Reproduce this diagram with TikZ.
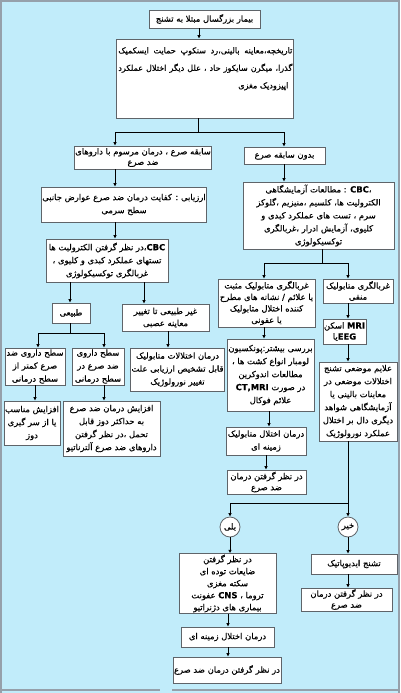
\documentclass[tikz,border=0pt]{standalone}
\usepackage{fontspec}
\usetikzlibrary{arrows.meta}
\newfontfamily\arabicfont[Script=Arabic,FakeBold=0.4]{DejaVu Sans}
\TeXXeTstate=1
\newcommand{\fa}[1]{\beginR #1\endR}
\newcommand{\lat}[1]{\textbf{#1}}
\newcommand{\jline}[1]{\hbox to 174pt{\beginR #1\endR}}
\definecolor{bgblue}{RGB}{193,236,250}
\definecolor{framegray}{RGB}{150,160,170}
\definecolor{boxgray}{RGB}{95,100,105}
\begin{document}
\begin{tikzpicture}[x=1pt,y=-1pt,
  box/.style={draw=boxgray, line width=0.8pt, fill=white, inner sep=1pt, align=center,
    font=\arabicfont\fontsize{8.4}{13}\selectfont},
  circ/.style={draw=boxgray, line width=0.8pt, fill=white, circle, minimum size=20pt, inner sep=0pt,
    font=\arabicfont\fontsize{8.4}{13}\selectfont},
  arr/.style={-{Latex[length=3.5pt,width=3.5pt]}, line width=0.7pt},
  ln/.style={line width=0.7pt}]
\fill[bgblue] (0,0) rectangle (400,693);
\useasboundingbox (0,0) rectangle (400,693);
\draw[framegray, line width=2pt] (1,693) -- (1,1) -- (399,1) -- (399,693);
\draw[framegray, line width=1.5pt] (0,690) -- (160,690) (172,690) -- (400,690);

% top
\node[box, minimum width=111pt, minimum height=18pt] (b1) at (204.5,19) {\fa{بیمار بزرگسال مبتلا به تشنج}};
\node[box, minimum width=177pt, minimum height=79pt] (b2) at (204.5,78.5) {};
\node[inner sep=0pt, anchor=north east, align=right,
  font=\arabicfont\fontsize{8.1}{17.5}\selectfont] (b2t) at (292.5,47)
  {\jline{تاریخچه،معاینه بالینی،رد سنکوپ حمایت ایسکمیک}\\
   \jline{گذرا، میگرن سایکوز حاد ، علل دیگر اختلال عملکرد}\\
   \fa{اپیزودیک مغزی}\hspace*{4pt}};

% left branch
\node[box, minimum width=128pt, minimum height=23pt] (b3) at (143,157.5)
  {\fa{سابقه صرع ، درمان مرسوم با داروهای}\\[-2.5pt]\fa{ضد صرع}};
\node[box, minimum width=81pt, minimum height=17pt] (b4) at (284.5,155.5) {\fa{بدون سابقه صرع}};
\node[box, minimum width=154pt, minimum height=35pt] (b5) at (124,204.5)
  {\fa{ارزیابی : کفایت درمان ضد صرع عوارض جانبی}\\\fa{سطح سرمی}};
\node[box, minimum width=122pt, minimum height=43pt] (b6) at (107,260.5)
  {\fa{در نظر گرفتن الکترولیت ها}،\lat{CBC}\\\fa{تستهای عملکرد کبدی و کلیوی ،}\\\fa{غربالگری توکسیکولوژی}};
\node[box, minimum width=38pt, minimum height=20pt] (b20) at (71,313) {\fa{طبیعی}};
\node[box, minimum width=87pt, minimum height=27pt] (b21) at (165.5,317.5)
  {\fa{غیر طبیعی تا تغییر}\\[-1pt]\fa{معاینه عصبی}};
\node[box, minimum width=60pt, minimum height=37pt] (b23) at (35,366.5)
  {\fa{سطح داروی ضد}\\\fa{صرع کمتر از}\\\fa{سطح درمانی}};
\node[box, minimum width=52pt, minimum height=37pt] (b24) at (98,366.5)
  {\fa{سطح داروی}\\\fa{ضد صرع در}\\\fa{سطح درمانی}};
\node[box, minimum width=91pt, minimum height=43pt] (b27) at (177.5,369.5)
  {\fa{درمان اختلالات متابولیک}\\\fa{قابل تشخیص ارزیابی علت}\\\fa{تغییر نورولوژیک}};
\node[box, minimum width=54pt, minimum height=44pt] (b25) at (32,423)
  {\fa{افزایش مناسب}\\\fa{یا از سر گیری}\\\fa{دوز}};
\node[box, minimum width=97pt, minimum height=55pt] (b26) at (111.5,428.5)
  {\fa{افزایش درمان ضد صرع}\\\fa{به حداکثر دوز قابل}\\\fa{تحمل ،در نظر گرفتن}\\\fa{داروهای ضد صرع آلترناتیو}};

% right branch
\node[box, minimum width=151pt, minimum height=67pt] (b6r) at (318.5,215.5)
  {\fa{مطالعات آزمایشگاهی} : \lat{CBC}،\\\fa{الکترولیت ها، کلسیم ،منیزیم ،گلوکز}\\\fa{سرم ، تست های عملکرد کبدی و}\\\fa{کلیوی، آزمایش ادرار ،غربالگری}\\\fa{توکسیکولوژی}};
\node[box, minimum width=97pt, minimum height=48pt] (b7) at (266.5,303)
  {\fa{غربالگری متابولیک مثبت}\\[-1.5pt]\fa{یا علائم / نشانه های مطرح}\\[-1.5pt]\fa{کننده اختلال متابولیک}\\[-1.5pt]\fa{یا عفونی}};
\node[box, minimum width=70pt, minimum height=24pt] (b8) at (358,291)
  {\fa{غربالگری متابولیک}\\[-2pt]\fa{منفی}};
\node[box, minimum width=43pt, minimum height=25pt] (b9) at (344.5,331.5)
  {\fa{اسکن} \lat{MRI}\\[-2pt]\fa{یا}\lat{EEG}};
\node[box, minimum width=87pt, minimum height=72pt] (b10) at (270.5,375)
  {\fa{بررسی بیشتر:پونکسیون}\\\fa{لومبار انواع کشت ها ،}\\\fa{مطالعات اندوکرین}\\\lat{CT,MRI} \fa{در صورت}\\\fa{علائم فوکال}};
\node[box, minimum width=78pt, minimum height=79pt] (b11) at (358,401.5)
  {\fa{علایم موضعی تشنج}\\\fa{اختلالات موضعی در}\\\fa{معاینات بالینی یا}\\\fa{آزمایشگاهی شواهد}\\\fa{دیگری دال بر اختلال}\\\fa{عملکرد نورولوژیک}};
\node[box, minimum width=80pt, minimum height=28pt] (b12) at (266,441)
  {\fa{درمان اختلال متابولیک}\\\fa{زمینه ای}};
\node[box, minimum width=79pt, minimum height=24pt] (b13) at (266.5,482)
  {\fa{در نظر گرفتن درمان}\\[-2pt]\fa{ضد صرع}};
\node[circ] (cy) at (230,527) {\fa{بلی}};
\node[circ] (cn) at (348,527) {\fa{خیر}};
\node[box, minimum width=97pt, minimum height=59pt] (b15) at (227.5,583.5)
  {\fa{در نظر گرفتن}\\[-1pt]\fa{ضایعات توده ای}\\[-1pt]\fa{سکته مغزی}\\[-1pt]\fa{عفونت} \lat{CNS} ، \fa{تروما}\\[-1pt]\fa{بیماری های دژنراتیو}};
\node[box, minimum width=93pt, minimum height=20pt] (b16) at (227.5,637) {\fa{درمان اختلال زمینه ای}};
\node[box, minimum width=108pt, minimum height=26pt] (b17) at (227,670) {\fa{در نظر گرفتن درمان ضد صرع}};
\node[box, minimum width=86pt, minimum height=20pt] (b18) at (354,564) {\fa{تشنج ایدیوپاتیک}};
\node[box, minimum width=91pt, minimum height=23pt] (b19) at (346.5,599.5)
  {\fa{در نظر گرفتن درمان}\\[-2pt]\fa{ضد صرع}};

% connectors
\draw[arr] (b1.south -| 199,0) -- (b2.north -| 199,0);
\coordinate (j1) at (198,132);
\coordinate (j1l) at (115,132);
\coordinate (j1r) at (284,132);
\draw[ln] (b2.south -| j1) -- (j1);
\draw[ln] (j1l) -- (j1r);
\draw[arr] (j1l) -- (b3.north -| j1l);
\draw[arr] (j1r) -- (b4.north -| j1r);
\draw[arr] (b3.south -| j1l) -- (b5.north -| j1l);
\draw[arr] (b5.south -| j1l) -- (b6.north -| j1l);
\draw[arr] (b6.south -| 70,0) -- (b20.north -| 70,0);
\draw[arr] (b6.south -| 144,0) -- (b21.north -| 144,0);
\coordinate (j2) at (70,333);
\coordinate (j2l) at (38,333);
\coordinate (j2r) at (104,333);
\draw[ln] (b20.south -| j2) -- (j2);
\draw[ln] (j2l) -- (j2r);
\draw[arr] (j2l) -- (b23.north -| j2l);
\draw[arr] (j2r) -- (b24.north -| j2r);
\draw[arr] (b21.south -| 168,0) -- (b27.north -| 168,0);
\draw[arr] (b23.south -| 35,0) -- (b25.north -| 35,0);
\draw[arr] (b24.south -| 104,0) -- (b26.north -| 104,0);

\draw[arr] (b4.south -| j1r) -- (b6r.north -| j1r);
\coordinate (j3) at (322,263);
\coordinate (j3l) at (264,263);
\coordinate (j3r) at (348,263);
\draw[ln] (b6r.south -| j3) -- (j3);
\draw[ln] (j3l) -- (j3r);
\draw[arr] (j3l) -- (b7.north -| j3l);
\draw[arr] (j3r) -- (b8.north -| j3r);
\draw[arr] (b7.south -| j3l) -- (b10.north -| j3l);
\draw[arr] (b10.south -| 269,0) -- (b12.north -| 269,0);
\draw[arr] (b12.south -| 266,0) -- (b13.north -| 266,0);
\draw[arr] (b8.south -| j3r) -- (b9.north -| j3r);
\draw[arr] (b9.south -| j3r) -- (b11.north -| j3r);
\coordinate (j4r) at (348,503);
\coordinate (j4l) at (230,503);
\draw[ln] (b11.south -| j4r) -- (j4r) -- (j4l);
\draw[arr] (j4l) -- (cy.north);
\draw[arr] (j4r) -- (cn.north);
\draw[arr] (cy.south) -- (b15.north -| cy);
\draw[arr] (b15.south -| 228,0) -- (b16.north -| 228,0);
\draw[arr] (b16.south -| 228,0) -- (b17.north -| 228,0);
\draw[arr] (cn.south) -- (b18.north -| cn);
\draw[arr] (b18.south -| cn) -- (b19.north -| cn);
\end{tikzpicture}
\end{document}
